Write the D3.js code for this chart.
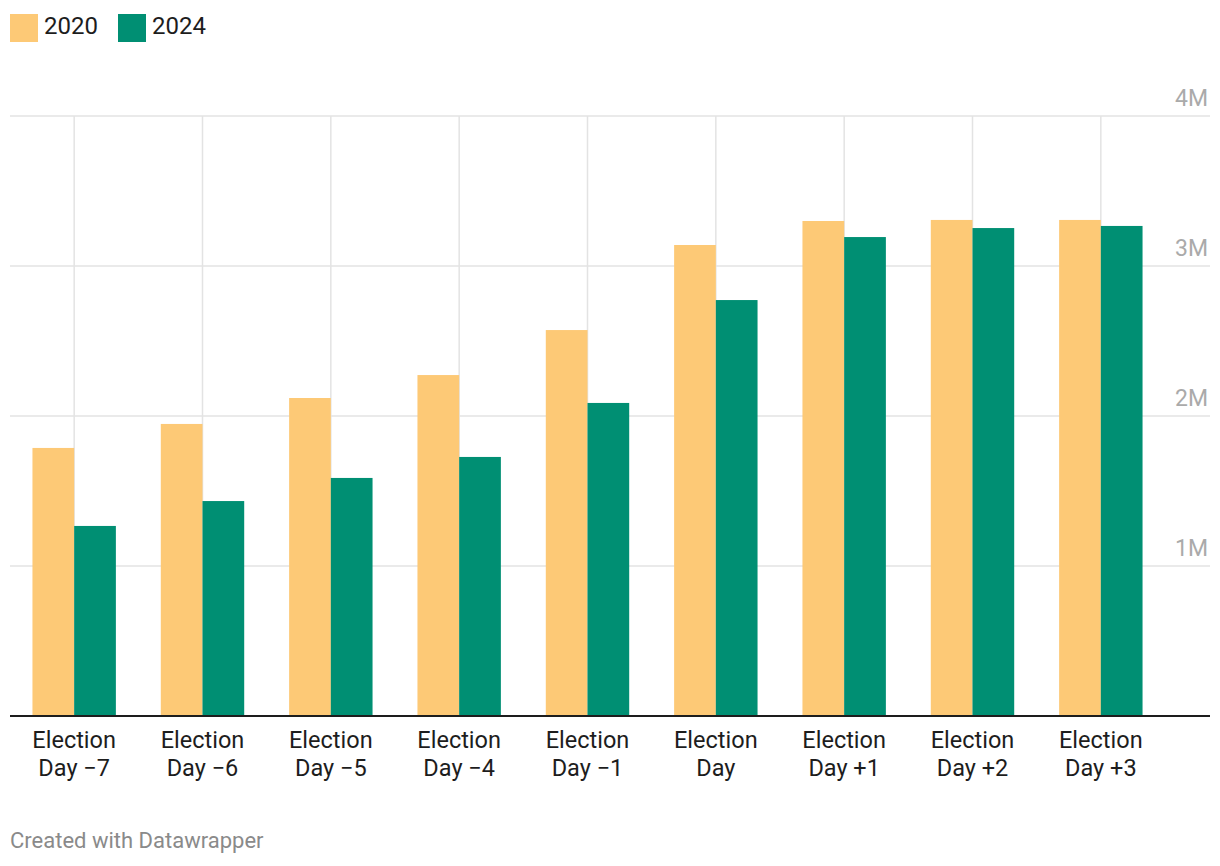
<!DOCTYPE html>
<html><head><meta charset="utf-8">
<script src="https://cdn.jsdelivr.net/npm/d3@7"></script>
<style>body{margin:0;background:#fff;font-family:Roboto,sans-serif;}</style>
</head><body>
<svg id="c" width="1220" height="866"></svg>
<script>
const categories = [["Election","Day \u22127"],["Election","Day \u22126"],["Election","Day \u22125"],["Election","Day \u22124"],["Election","Day \u22121"],["Election","Day"],["Election","Day +1"],["Election","Day +2"],["Election","Day +3"]];
const seriesNames = ["2020","2024"];
const values2020 = [1.787, 1.947, 2.12, 2.273, 2.573, 3.14, 3.30, 3.307, 3.307];
const values2024 = [1.267, 1.433, 1.587, 1.727, 2.087, 2.773, 3.193, 3.253, 3.267];
const yTicks = [1, 2, 3, 4];
const yTickLabels = ["1M","2M","3M","4M"];
const colors = ["#fdc976", "#008f73"];

const svg = d3.select("#c");
const catKeys = categories.map(d => d.join(" "));
const x = d3.scaleBand().domain(catKeys).range([10, 1165]).padding(0);
const y = d3.scaleLinear().domain([0, 4]).range([716, 116]);
const groupW = x.bandwidth() * 0.65;
const x1 = d3.scaleBand().domain(seriesNames).range([0, groupW]).padding(0);

// horizontal grid
svg.append("g").selectAll("line").data(yTicks).join("line")
  .attr("x1", 10).attr("x2", 1210)
  .attr("y1", d => y(d)).attr("y2", d => y(d))
  .attr("stroke", "#e3e3e3").attr("stroke-width", 1.5);
// vertical grid
svg.append("g").selectAll("line").data(catKeys).join("line")
  .attr("x1", d => x(d) + x.bandwidth()/2).attr("x2", d => x(d) + x.bandwidth()/2)
  .attr("y1", y(4)).attr("y2", y(0))
  .attr("stroke", "#e3e3e3").attr("stroke-width", 1.5);
// y labels
svg.append("g").selectAll("text").data(yTicks).join("text")
  .attr("x", 1208).attr("y", d => y(d) - 10)
  .attr("text-anchor", "end")
  .attr("font-size", 23).attr("fill", "#aaaaaa")
  .text((d,i) => yTickLabels[i]);

// bars
const series = [values2020, values2024];
series.forEach((vals, si) => {
  svg.append("g").selectAll("rect").data(vals).join("rect")
    .attr("x", (d,i) => x(catKeys[i]) + (x.bandwidth()-groupW)/2 + x1(seriesNames[si]))
    .attr("width", x1.bandwidth())
    .attr("y", d => y(d))
    .attr("height", d => y(0) - y(d))
    .attr("fill", colors[si]);
});

// baseline
svg.append("line").attr("x1", 10).attr("x2", 1210).attr("y1", y(0)).attr("y2", y(0))
  .attr("stroke", "#1d1d1d").attr("stroke-width", 2);

// x labels
const xl = svg.append("g").selectAll("text").data(categories).join("text")
  .attr("text-anchor", "middle")
  .attr("font-size", 23.5).attr("fill", "#1d1d1d");
xl.each(function(d, i) {
  const cx = x(catKeys[i]) + x.bandwidth()/2;
  d3.select(this).selectAll("tspan").data(d).join("tspan")
    .attr("x", cx).attr("y", (t, j) => 748 + j * 28).text(t => t);
});

// legend
const leg = svg.append("g");
const legX = [10, 118];
seriesNames.forEach((s, i) => {
  leg.append("rect").attr("x", legX[i]).attr("y", 14).attr("width", 28).attr("height", 28).attr("fill", colors[i]);
  leg.append("text").attr("x", legX[i] + 34).attr("y", 34).attr("font-size", 24).attr("fill", "#1d1d1d").text(s);
});

// footer
svg.append("text").attr("x", 10).attr("y", 848).attr("font-size", 22).attr("fill", "#8a8a8a").text("Created with Datawrapper");
</script>
</body></html>
